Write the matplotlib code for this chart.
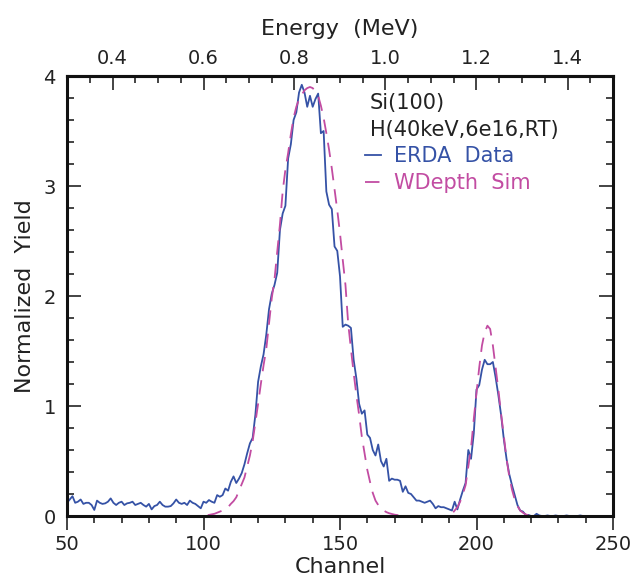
import matplotlib
matplotlib.use("Agg")
import matplotlib.pyplot as plt
import numpy as np
from matplotlib.ticker import MultipleLocator, FixedLocator, FormatStrFormatter

# channel axis 50..250, one value per channel
channels = np.arange(50, 251)

erda_yield = [
    0.12, 0.15, 0.18, 0.12, 0.13, 0.15, 0.11, 0.12, 0.12, 0.10,   # 50-59
    0.055, 0.14, 0.12, 0.11, 0.115, 0.13, 0.16, 0.12, 0.10, 0.12,  # 60-69
    0.13, 0.10, 0.115, 0.12, 0.13, 0.10, 0.11, 0.12, 0.10, 0.085,  # 70-79
    0.11, 0.06, 0.09, 0.10, 0.13, 0.10, 0.085, 0.085, 0.09, 0.115, # 80-89
    0.15, 0.12, 0.11, 0.12, 0.10, 0.14, 0.12, 0.11, 0.09, 0.07,    # 90-99
    0.13, 0.12, 0.145, 0.13, 0.12, 0.19, 0.175, 0.19, 0.25, 0.23,  # 100-109
    0.31, 0.36, 0.30, 0.34, 0.39, 0.47, 0.57, 0.66, 0.71, 0.92,    # 110-119
    1.22, 1.36, 1.47, 1.65, 1.88, 2.02, 2.10, 2.21, 2.60, 2.75,    # 120-129
    2.82, 3.25, 3.38, 3.60, 3.67, 3.85, 3.92, 3.85, 3.72, 3.82,    # 130-139
    3.72, 3.79, 3.84, 3.48, 3.50, 2.95, 2.83, 2.79, 2.45, 2.41,    # 140-149
    2.18, 1.72, 1.74, 1.73, 1.71, 1.42, 1.25, 1.02, 0.93, 0.96,    # 150-159
    0.74, 0.71, 0.60, 0.55, 0.65, 0.50, 0.45, 0.52, 0.32, 0.34,    # 160-169
    0.33, 0.33, 0.32, 0.22, 0.27, 0.21, 0.20, 0.17, 0.14, 0.14,    # 170-179
    0.13, 0.12, 0.13, 0.14, 0.11, 0.07, 0.09, 0.08, 0.08, 0.07,    # 180-189
    0.06, 0.05, 0.13, 0.06, 0.15, 0.23, 0.30, 0.60, 0.52, 0.75,    # 190-199
    1.15, 1.19, 1.33, 1.42, 1.38, 1.38, 1.40, 1.26, 1.10, 0.92,    # 200-209
    0.70, 0.52, 0.38, 0.28, 0.19, 0.10, 0.05, 0.04, 0.01, 0.01,    # 210-219
    0.0, 0.0, 0.02, 0.005, 0.0, 0.0, 0.005, 0.0, 0.0, 0.005,       # 220-229
    0.0, 0.0, 0.0, 0.005, 0.0, 0.0, 0.0, 0.0, 0.005, 0.0,          # 230-239
    0.0, 0.0, 0.0, 0.0, 0.0, 0.0, 0.0, 0.0, 0.0, 0.0, 0.0,         # 240-250
]

# WDepth simulation
wdepth_sim = [
    0.0, 0.0, 0.0, 0.0, 0.0, 0.0, 0.0, 0.0, 0.0, 0.0,              # 50-59
    0.0, 0.0, 0.0, 0.0, 0.0, 0.0, 0.0, 0.0, 0.0, 0.0,              # 60-69
    0.0, 0.0, 0.0, 0.0, 0.0, 0.0, 0.0, 0.0, 0.0, 0.0,              # 70-79
    0.0, 0.0, 0.0, 0.0, 0.0, 0.0, 0.0, 0.0, 0.0, 0.0,              # 80-89
    0.0, 0.0, 0.0, 0.0, 0.0, 0.0, 0.0, 0.0, 0.0, 0.0,              # 90-99
    0.0, 0.005, 0.01, 0.015, 0.02, 0.03, 0.04, 0.05, 0.06, 0.08,   # 100-109
    0.11, 0.135, 0.17, 0.23, 0.29, 0.35, 0.45, 0.55, 0.68, 0.85,   # 110-119
    1.02, 1.20, 1.37, 1.52, 1.75, 1.98, 2.15, 2.40, 2.65, 2.95,    # 120-129
    3.15, 3.30, 3.47, 3.62, 3.72, 3.79, 3.83, 3.87, 3.89, 3.90,    # 130-139
    3.89, 3.86, 3.82, 3.73, 3.62, 3.48, 3.33, 3.16, 2.97, 2.78,    # 140-149
    2.57, 2.33, 2.10, 1.75, 1.52, 1.30, 1.10, 0.92, 0.72, 0.57,    # 150-159
    0.42, 0.31, 0.21, 0.14, 0.10, 0.07, 0.05, 0.035, 0.025, 0.018, # 160-169
    0.012, 0.008, 0.005, 0.003, 0.0, 0.0, 0.0, 0.0, 0.0, 0.0,      # 170-179
    0.0, 0.0, 0.0, 0.0, 0.0, 0.0, 0.0, 0.0, 0.0, 0.003,            # 180-189
    0.01, 0.02, 0.05, 0.08, 0.13, 0.20, 0.28, 0.45, 0.62, 0.88,    # 190-199
    1.12, 1.35, 1.55, 1.67, 1.73, 1.70, 1.55, 1.35, 1.15, 0.93,    # 200-209
    0.73, 0.52, 0.36, 0.24, 0.15, 0.09, 0.05, 0.03, 0.015, 0.007,  # 210-219
    0.003, 0.0, 0.0, 0.0, 0.0, 0.0, 0.0, 0.0, 0.0, 0.0,            # 220-229
    0.0, 0.0, 0.0, 0.0, 0.0, 0.0, 0.0, 0.0, 0.0, 0.0,              # 230-239
    0.0, 0.0, 0.0, 0.0, 0.0, 0.0, 0.0, 0.0, 0.0, 0.0, 0.0,         # 240-250
]

sample_lines = ["Si(100)", "H(40keV,6e16,RT)"]
series_names = ["ERDA  Data", "WDepth  Sim"]
energy_ticks = [0.4, 0.6, 0.8, 1.0, 1.2, 1.4]

blue = "#3552a6"
magenta = "#c24ca2"
txt = "#222222"

plt.rcParams['font.family'] = ['DejaVu Sans']

fig = plt.figure(figsize=(6.34, 5.81), dpi=100)
ax = fig.add_axes([67 / 634, 65 / 581, 546 / 634, 440 / 581])

ax.plot(channels, erda_yield, color=blue, lw=1.3, label=series_names[0])
ax.plot(channels, wdepth_sim, color=magenta, lw=1.3, dashes=(8, 5),
        label=series_names[1])

ax.set_xlim(50, 250)
ax.set_ylim(0, 4)

for s in ax.spines.values():
    s.set_linewidth(2.2)
    s.set_color("#111111")

ax.xaxis.set_major_locator(MultipleLocator(50))
ax.xaxis.set_minor_locator(MultipleLocator(10))
ax.yaxis.set_major_locator(MultipleLocator(1))
ax.yaxis.set_minor_locator(MultipleLocator(0.2))

ax.tick_params(axis='x', which='both', direction='out', top=False,
               labelsize=14, labelcolor=txt, width=1.1, color="#111111")
ax.tick_params(axis='x', which='major', length=10, pad=4)
ax.tick_params(axis='x', which='minor', length=5)
ax.tick_params(axis='y', which='both', direction='in', right=True,
               labelsize=14, labelcolor=txt, width=1.1, color="#111111")
ax.tick_params(axis='y', which='major', length=10, pad=8)
ax.tick_params(axis='y', which='minor', length=5)

ax.set_xlabel("Channel", fontsize=16, color=txt, labelpad=2)
ax.set_ylabel("Normalized  Yield", fontsize=16, color=txt, labelpad=6)

# energy scale on top
def ch2e(c):
    return 0.3 + 0.006 * (np.asarray(c) - 50)

def e2ch(e):
    return 50 + (np.asarray(e) - 0.3) / 0.006

sec = ax.secondary_xaxis('top', functions=(ch2e, e2ch))
sec.xaxis.set_major_locator(FixedLocator(energy_ticks))
sec.xaxis.set_minor_locator(FixedLocator(np.arange(0.35, 1.5, 0.05)))
sec.xaxis.set_major_formatter(FormatStrFormatter('%.1f'))
sec.tick_params(which='both', direction='in', labelsize=14, labelcolor=txt,
                width=1.1, color="#111111")
sec.tick_params(which='major', length=10, pad=6)
sec.tick_params(which='minor', length=5)
sec.spines['top'].set_linewidth(2.2)
sec.set_xlabel("Energy  (MeV)", fontsize=16, color=txt, labelpad=10)

ax.text(0.555, 0.962, sample_lines[0], transform=ax.transAxes, fontsize=15,
        color=txt, va='top', ha='left')
ax.text(0.555, 0.900, sample_lines[1], transform=ax.transAxes, fontsize=15,
        color=txt, va='top', ha='left')
ax.legend(loc='upper left', bbox_to_anchor=(0.545, 0.84), frameon=False,
          fontsize=15, handlelength=0.8, handletextpad=0.6, labelspacing=0.32,
          borderpad=0, borderaxespad=0, labelcolor='linecolor')

plt.savefig("out.png", dpi=100)
plt.close()
